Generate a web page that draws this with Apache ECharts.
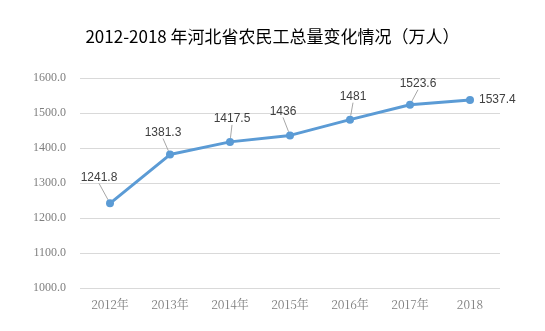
<!DOCTYPE html>
<html>
<head>
<meta charset="utf-8">
<script src="https://cdn.jsdelivr.net/npm/echarts@6/dist/echarts.min.js"></script>
<style>
  html, body { margin: 0; padding: 0; background: #fff; }
  #chart { width: 545px; height: 331px; }
</style>
</head>
<body>
<div id="chart"></div>
<script>
// Hebei migrant worker totals, 2012–2018 (10k persons)
const years = ['2012年', '2013年', '2014年', '2015年', '2016年', '2017年', '2018'];
const workers = [1241.8, 1381.3, 1417.5, 1436, 1481, 1523.6, 1537.4];
const valueTicks = { min: 1000, max: 1600, step: 100 };

// per-point label shifts (leader lines connect the label back to its point)
const labelShift = [[-11, -10], [-7, -6], [2, -7], [-7, -8], [3, -7], [8, -5], null];

const chart = echarts.init(document.getElementById('chart'));

const seriesData = workers.map((v, i) => {
  const item = { value: v };
  if (labelShift[i] === null) {
    item.label = { position: 'right', distance: 5 };
    item.labelLine = { show: false };
  }
  return item;
});

chart.setOption({
  animation: false,
  title: {
    text: '2012-2018 年河北省农民工总量变化情况（万人）',
    left: 'center',
    top: 23,
    textStyle: {
      fontFamily: '"Noto Sans CJK SC", sans-serif',
      fontSize: 17,
      fontWeight: 'normal',
      color: '#000'
    }
  },
  grid: { left: 80, right: 45, top: 78, bottom: 43 },
  xAxis: {
    type: 'category',
    data: years,
    boundaryGap: true,
    axisLine: { show: false },
    axisTick: { show: false },
    axisLabel: {
      margin: 10,
      fontFamily: '"Noto Serif CJK SC", "Liberation Serif", serif',
      fontSize: 12,
      color: '#7f7f7f'
    }
  },
  yAxis: {
    type: 'value',
    min: valueTicks.min,
    max: valueTicks.max,
    interval: valueTicks.step,
    axisLine: { show: false },
    axisTick: { show: false },
    splitLine: { lineStyle: { color: '#d9d9d9', width: 1 } },
    axisLabel: {
      margin: 14,
      formatter: v => v.toFixed(1),
      fontFamily: '"Liberation Serif", serif',
      fontSize: 12,
      color: '#7f7f7f'
    }
  },
  series: [{
    type: 'line',
    data: seriesData,
    symbol: 'circle',
    symbolSize: 8,
    lineStyle: { color: '#5b9bd5', width: 3 },
    itemStyle: { color: '#5b9bd5' },
    label: {
      show: true,
      position: 'top',
      distance: 6,
      fontFamily: '"Liberation Sans", "Noto Sans", sans-serif',
      fontSize: 12,
      color: '#404040'
    },
    labelLine: {
      show: true,
      lineStyle: { color: '#a6a6a6', width: 1 }
    },
    labelLayout: function (params) {
      const s = labelShift[params.dataIndex];
      if (!s) return {};
      return { dx: s[0], dy: s[1] };
    }
  }]
});
</script>
</body>
</html>
